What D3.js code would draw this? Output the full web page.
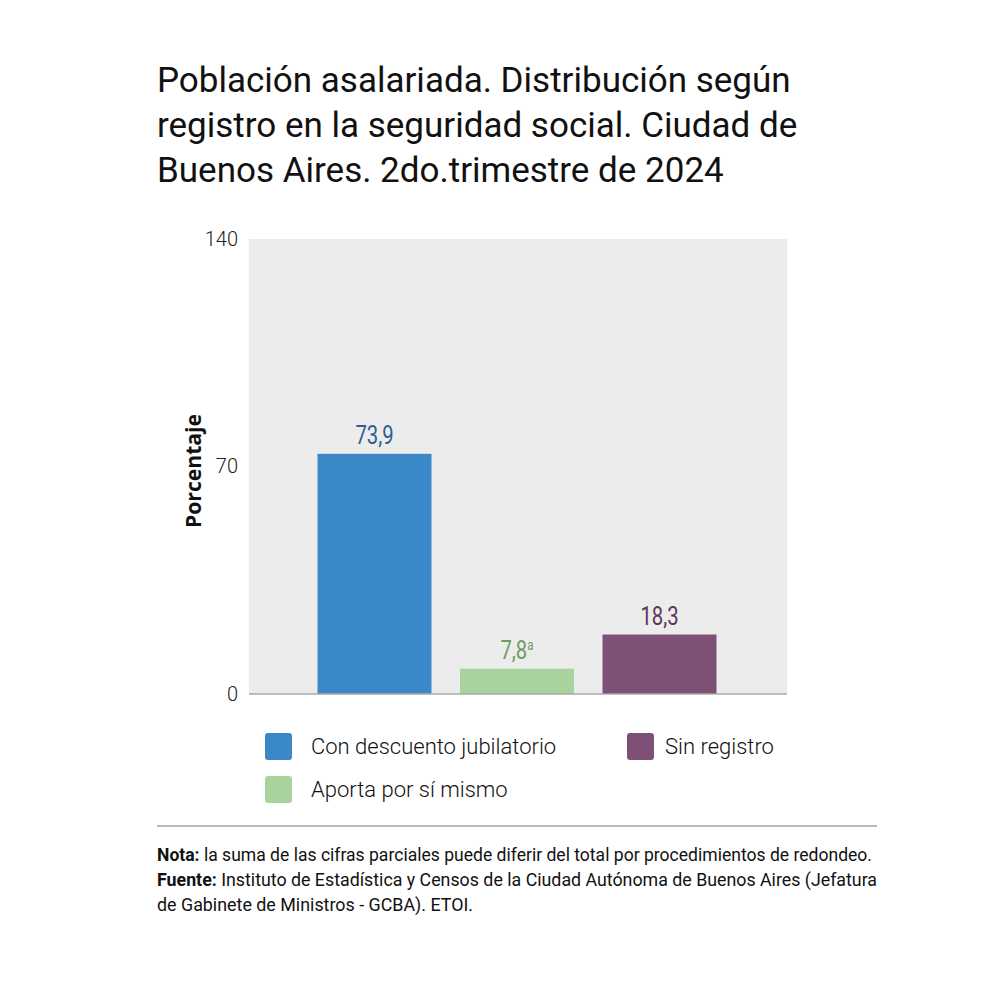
<!DOCTYPE html>
<html>
<head>
<meta charset="utf-8">
<script src="https://cdn.jsdelivr.net/npm/d3@7"></script>
<style>
  body { margin: 0; background: #fff; }
  svg { display: block; }
</style>
</head>
<body>
<svg id="chart" width="992" height="992"></svg>
<script>
var categories = ["Con descuento jubilatorio", "Aporta por sí mismo", "Sin registro"]
var values = [73.9, 7.8, 18.3]
var valueLabels = ["73,9", "7,8", "18,3"]
var superscripts = ["", "a", ""]
var yTicks = [0, 70, 140]
var titleLines = ["Población asalariada. Distribución según",
  "registro en la seguridad social. Ciudad de",
  "Buenos Aires. 2do.trimestre de 2024"]

var barColors = ["#3b88c9", "#a8d39d", "#7e5076"]
var labelColors = ["#2d5f90", "#6f9c63", "#5f3659"]

var svg = d3.select("#chart")
var font = "Roboto, sans-serif"

// title
svg.append("g").selectAll("text")
  .data(titleLines)
  .enter().append("text")
    .attr("x", 157)
    .attr("y", function(d, i) { return 92 + i * 45; })
    .style("font-family", font)
    .style("font-size", "35px")
    .style("fill", "#111")
    .text(function(d) { return d; });

var plot = { left: 249, right: 787, top: 239, bottom: 694 }

var x = d3.scaleBand()
  .domain(categories)
  .range([plot.left + 40, plot.right - 42])
  .paddingInner(0.2)
  .paddingOuter(0.2);

var y = d3.scaleLinear()
  .domain([0, 140])
  .range([plot.bottom, plot.top]);

svg.append("rect")
  .attr("x", plot.left)
  .attr("y", plot.top)
  .attr("width", plot.right - plot.left)
  .attr("height", plot.bottom - plot.top)
  .attr("fill", "#ececec");

// y axis ticks (labels only)
var yAxis = svg.append("g")
  .attr("transform", "translate(" + plot.left + ",0)")
  .call(d3.axisLeft(y).tickValues(yTicks).tickSize(0).tickPadding(11));
yAxis.select(".domain").remove();
yAxis.selectAll("text")
  .style("font-family", font)
  .style("font-weight", "300")
  .style("font-size", "20px")
  .style("fill", "#222");

svg.append("text")
  .attr("transform", "translate(201," + 471 + ") rotate(-90)")
  .attr("text-anchor", "middle")
  .attr("textLength", 114)
  .attr("lengthAdjust", "spacingAndGlyphs")
  .style("font-family", "'Open Sans', sans-serif")
  .style("font-weight", "bold")
  .style("font-size", "22px")
  .style("fill", "#111")
  .text("Porcentaje");

// bars
svg.append("g").selectAll("rect")
  .data(values)
  .enter().append("rect")
    .attr("x", function(d, i) { return x(categories[i]); })
    .attr("y", function(d) { return y(d); })
    .attr("width", x.bandwidth())
    .attr("height", function(d) { return y(0) - y(d); })
    .attr("fill", function(d, i) { return barColors[i]; });

// baseline
svg.append("line")
  .attr("x1", plot.left).attr("x2", plot.right)
  .attr("y1", plot.bottom).attr("y2", plot.bottom)
  .attr("stroke", "#aaa")
  .attr("stroke-width", 1.5);

// value labels (narrowed)
var labels = svg.append("g").selectAll("text")
  .data(values)
  .enter().append("text")
    .attr("transform", function(d, i) {
      return "translate(" + (x(categories[i]) + x.bandwidth() / 2) + "," + (y(d) - 10) + ") scale(0.78,1)";
    })
    .attr("text-anchor", "middle")
    .style("font-family", font)
    .style("font-size", "26px")
    .style("fill", function(d, i) { return labelColors[i]; });
labels.append("tspan").text(function(d, i) { return valueLabels[i]; });
labels.append("tspan")
  .attr("dy", "-0.6em")
  .style("font-size", "15px")
  .text(function(d, i) { return superscripts[i]; });

// legend
var legendPos = [[265, 733, 46], [265, 776, 46], [627, 733, 38]]
var legend = svg.append("g").selectAll("g")
  .data(categories)
  .enter().append("g")
    .attr("transform", function(d, i) { return "translate(" + legendPos[i][0] + "," + legendPos[i][1] + ")"; });
legend.append("rect")
  .attr("width", 27).attr("height", 27).attr("rx", 3)
  .attr("fill", function(d, i) { return barColors[i]; });
legend.append("text")
  .attr("x", function(d, i) { return legendPos[i][2]; })
  .attr("y", 21)
  .style("font-family", font)
  .style("font-weight", "300")
  .style("font-size", "22px")
  .style("fill", "#111")
  .text(function(d) { return d; });

// separator and notes
svg.append("line")
  .attr("x1", 157).attr("x2", 877)
  .attr("y1", 826).attr("y2", 826)
  .attr("stroke", "#777").attr("stroke-width", 1.2);

var notes = [
  [["Nota:", true], [" la suma de las cifras parciales puede diferir del total por procedimientos de redondeo.", false]],
  [["Fuente:", true], [" Instituto de Estadística y Censos de la Ciudad Autónoma de Buenos Aires (Jefatura", false]],
  [["de Gabinete de Ministros - GCBA). ETOI.", false]]
]
var noteWidths = [715, 720, 316]
var noteText = svg.append("g").selectAll("text")
  .data(notes)
  .enter().append("text")
    .attr("x", 157)
    .attr("y", function(d, i) { return 861 + i * 25; })
    .attr("textLength", function(d, i) { return noteWidths[i]; })
    .attr("lengthAdjust", "spacingAndGlyphs")
    .style("font-family", font)
    .style("font-size", "18px")
    .style("fill", "#111");
noteText.selectAll("tspan")
  .data(function(d) { return d; })
  .enter().append("tspan")
    .style("font-weight", function(d) { return d[1] ? "bold" : "normal"; })
    .text(function(d) { return d[0]; });
</script>
</body>
</html>
